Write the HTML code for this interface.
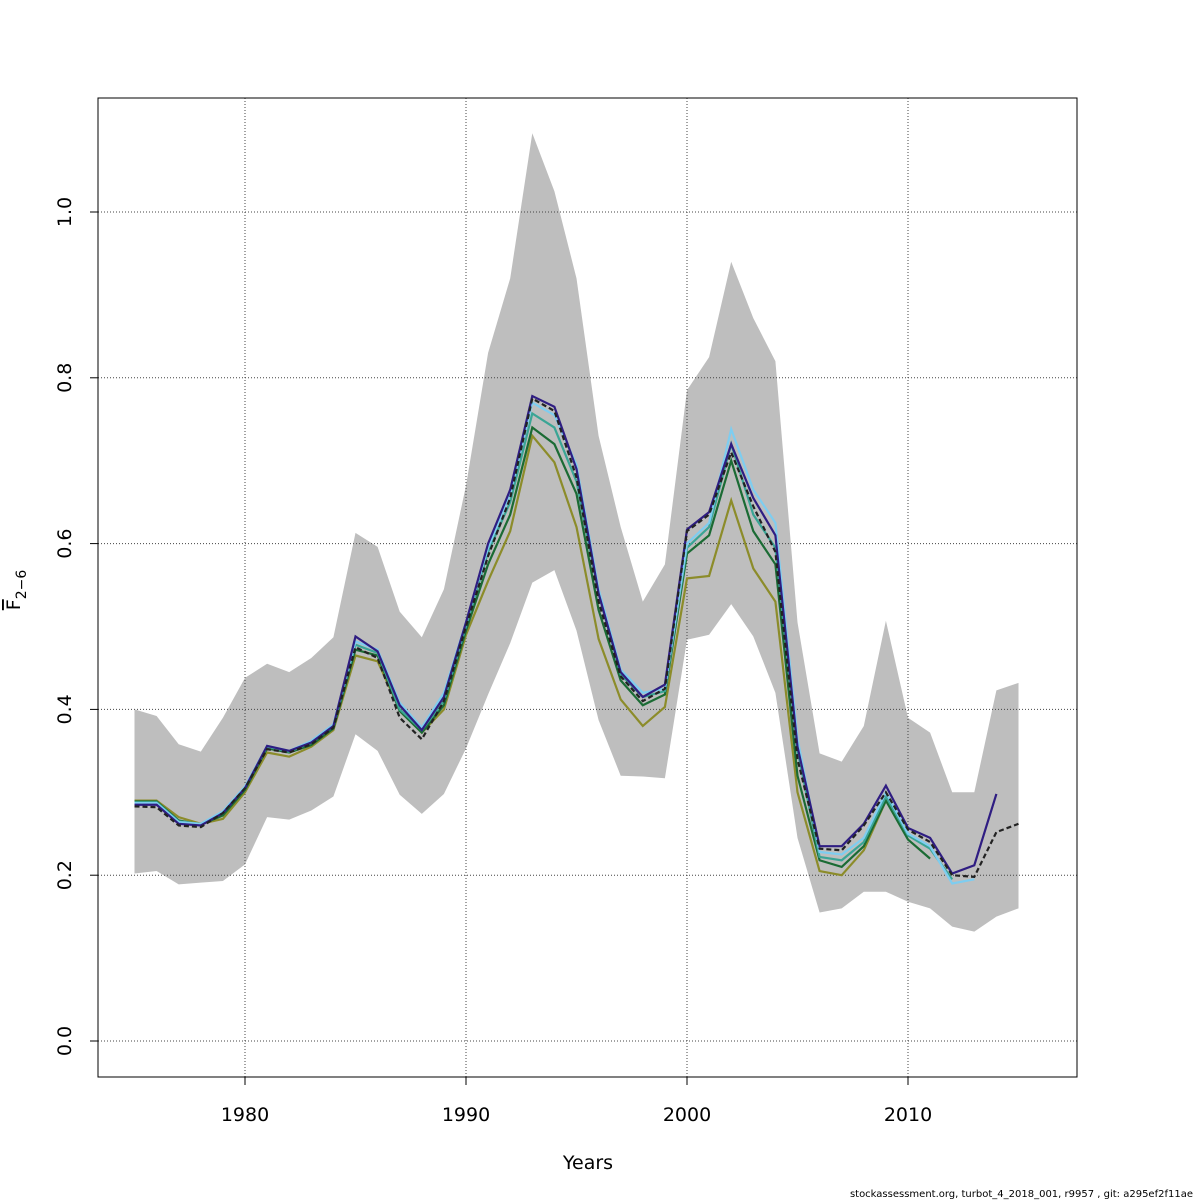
<!DOCTYPE html>
<html><head><meta charset="utf-8"><style>
html,body{margin:0;padding:0;background:#fff;}
svg{display:block;font-family:"DejaVu Sans","Liberation Sans",sans-serif;}
</style></head><body>
<svg id="chart" width="1200" height="1200" viewBox="0 0 1200 1200" xmlns="http://www.w3.org/2000/svg">
<rect width="1200" height="1200" fill="#fff"/>
<g id="band"></g>
<g id="grid"></g>
<g id="series"></g>
<rect x="98" y="98" width="979" height="979" fill="none" stroke="#000" stroke-width="1"/>
<g id="axes"></g>
<text x="588" y="1169" font-size="19" text-anchor="middle">Years</text>
<text transform="translate(20,590) rotate(-90)" font-size="19" text-anchor="middle"><tspan text-decoration="overline">F</tspan><tspan font-size="14" dy="6">2−6</tspan></text>
<text x="1193" y="1197" font-size="10" text-anchor="end">stockassessment.org, turbot_4_2018_001, r9957 , git: a295ef2f11ae</text>
</svg>
<script>
const years = [1975,1976,1977,1978,1979,1980,1981,1982,1983,1984,1985,1986,1987,1988,1989,1990,1991,1992,1993,1994,1995,1996,1997,1998,1999,2000,2001,2002,2003,2004,2005,2006,2007,2008,2009,2010,2011,2012,2013,2014,2015];
const upper = [.40,.392,.358,.349,.39,.438,.455,.445,.462,.487,.613,.596,.518,.487,.545,.67,.83,.92,1.095,1.025,.92,.73,.62,.53,.575,.785,.825,.94,.872,.82,.505,.347,.337,.38,.507,.39,.372,.30,.30,.423,.432];
const lower = [.202,.205,.189,.191,.193,.213,.27,.267,.278,.295,.37,.35,.297,.274,.298,.353,.418,.48,.553,.568,.495,.387,.32,.319,.317,.484,.49,.527,.488,.42,.245,.155,.16,.18,.18,.168,.16,.138,.132,.15,.16];
const fullRun = [.283,.282,.26,.258,.275,.305,.352,.348,.358,.378,.475,.462,.39,.364,.41,.5,.585,.655,.775,.76,.68,.53,.44,.41,.425,.615,.635,.71,.645,.59,.34,.232,.23,.26,.3,.255,.24,.2,.198,.252,.262];
const retro2014 = [.285,.285,.262,.26,.275,.305,.356,.35,.36,.38,.488,.47,.405,.375,.415,.505,.6,.665,.778,.765,.69,.54,.445,.415,.43,.617,.638,.72,.655,.61,.355,.235,.235,.262,.308,.257,.245,.202,.212,.298];
const retro2013 = [.287,.287,.264,.262,.277,.307,.356,.35,.362,.382,.482,.472,.408,.378,.42,.505,.595,.66,.77,.755,.695,.545,.448,.42,.425,.6,.625,.738,.665,.625,.365,.228,.225,.245,.3,.25,.235,.19,.195];
const retro2012 = [.288,.288,.265,.262,.276,.306,.355,.349,.36,.38,.478,.468,.4,.375,.41,.5,.59,.65,.757,.74,.675,.54,.442,.415,.422,.595,.62,.72,.635,.595,.35,.222,.218,.24,.295,.248,.232,.195];
const retro2011 = [.289,.289,.266,.261,.272,.303,.353,.348,.357,.377,.472,.465,.398,.372,.405,.495,.575,.635,.74,.72,.66,.52,.435,.405,.418,.588,.61,.7,.615,.575,.32,.218,.21,.235,.29,.243,.22];
const retro2010 = [.29,.29,.27,.262,.268,.3,.348,.343,.355,.375,.465,.458,.4,.372,.4,.49,.555,.615,.73,.698,.62,.485,.412,.38,.403,.558,.561,.652,.57,.53,.3,.205,.2,.23,.29,.255];
const xTicks = [1980,1990,2000,2010];
const yTicks = [0,0.2,0.4,0.6,0.8,1.0];
const yTickLabels = ["0.0","0.2","0.4","0.6","0.8","1.0"];

const NS="http://www.w3.org/2000/svg";
const X = yr => 245 + (yr-1980)*22.1;
const Y = v => 1041 - v*829;
function mk(tag, parent, attrs){const e=document.createElementNS(NS,tag);for(const k in attrs)e.setAttribute(k,attrs[k]);parent.appendChild(e);return e;}

let pts = years.map((y,i)=>X(y)+","+Y(upper[i]));
for(let i=years.length-1;i>=0;i--) pts.push(X(years[i])+","+Y(lower[i]));
const band = mk('polygon', document.getElementById('band'), {points:pts.join(' '), fill:'#bebebe'});



const grid=document.getElementById('grid');
xTicks.forEach(t=>{const l=mk('line',grid,{x1:X(t),x2:X(t),y1:98,y2:1077,stroke:'#444','stroke-dasharray':'1,2','stroke-width':1});

});
yTicks.forEach(t=>{const l=mk('line',grid,{x1:98,x2:1077,y1:Y(t),y2:Y(t),stroke:'#444','stroke-dasharray':'1,2','stroke-width':1});

});

const ser=document.getElementById('series');
const defs=[
 [retro2010,'#8c8c2a','retro-2010-line',''],
 [retro2011,'#1b6b34','retro-2011-line',''],
 [retro2012,'#3aa595','retro-2012-line',''],
 [retro2013,'#7ecdf0','retro-2013-line',''],
 [retro2014,'#2f1d82','retro-2014-line',''],
 [fullRun,'#222','full-run-line','5,3']
];
defs.forEach(d=>{
 const p=mk('polyline',ser,{points:d[0].map((v,i)=>X(years[i])+","+Y(v)).join(' '),fill:'none',stroke:d[1],'stroke-width':2.2});
 if(d[3]) p.setAttribute('stroke-dasharray',d[3]);
 
 
});

const ax=document.getElementById('axes');
xTicks.forEach(t=>{
 mk('line',ax,{x1:X(t),x2:X(t),y1:1077,y2:1085,stroke:'#000'});
 const tx=mk('text',ax,{x:X(t),y:1121,'font-size':19,'text-anchor':'middle'});tx.textContent=t;
 
 
});
yTicks.forEach((t,i)=>{
 mk('line',ax,{x1:90,x2:98,y1:Y(t),y2:Y(t),stroke:'#000'});
 const tx=mk('text',ax,{transform:`translate(71,${Y(t)}) rotate(-90)`,'font-size':19,'text-anchor':'middle'});tx.textContent=yTickLabels[i];
 
 
});
</script>
</body></html>
